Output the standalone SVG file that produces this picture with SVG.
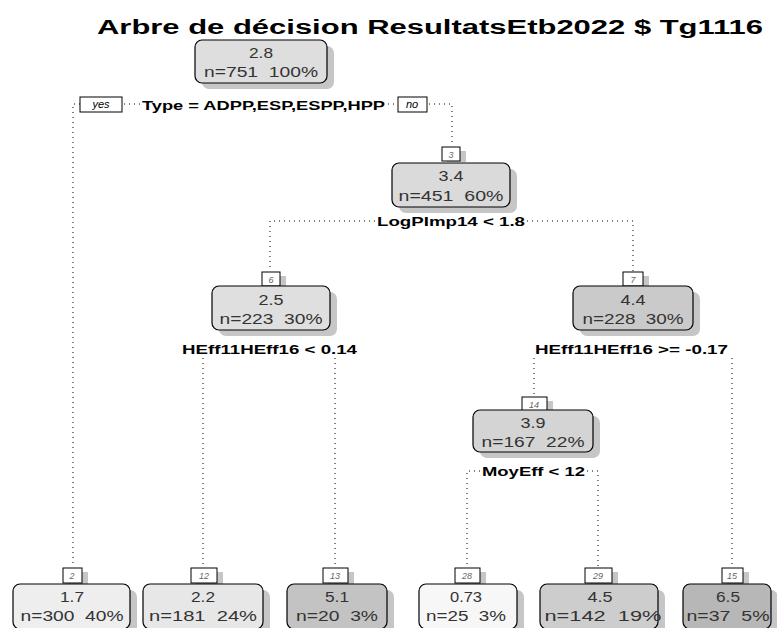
<svg xmlns="http://www.w3.org/2000/svg" width="777" height="628" viewBox="0 0 777 628">
<defs>
<style>
.bg{fill:#fff}
.title{font-family:"Liberation Sans",Arial,sans-serif;font-weight:bold;font-size:20px;fill:#000}
.box{stroke:#000;stroke-width:1.2}
.shadow{fill:#c6c6c6}
.val{font-family:"Liberation Sans",Arial,sans-serif;font-size:15px;fill:#333;text-anchor:middle;white-space:pre}
.lab{fill:#fff;stroke:#000;stroke-width:1}
.labt{font-family:"Liberation Sans",Arial,sans-serif;font-size:9px;font-style:italic;fill:#666;text-anchor:middle}
.split{font-family:"Liberation Sans",Arial,sans-serif;font-weight:bold;font-size:13.5px;fill:#000}
.yn{font-family:"Liberation Sans",Arial,sans-serif;font-style:italic;font-size:11px;fill:#000;text-anchor:middle}
.dot{fill:none;stroke:#000;stroke-width:1;stroke-dasharray:1 4}
</style>
</defs>
<rect class="bg" x="0" y="0" width="777" height="628"/>
<text class="title" x="97" y="34" textLength="666" lengthAdjust="spacingAndGlyphs">Arbre de décision ResultatsEtb2022 $ Tg1116</text>

<g id="connectors">
  <!-- root split -->
  <path class="dot" d="M80 104 H73 V567"/>
  <path class="dot" d="M124 104 H140"/>
  <path class="dot" d="M388 104 H397"/>
  <path class="dot" d="M429 104 H452 V146"/>
  <!-- node 3 split -->
  <path class="dot" d="M375 221 H270 V271"/>
  <path class="dot" d="M527 221 H633 V271"/>
  <!-- node 6 split -->
  <path class="dot" d="M203 358 V567"/>
  <path class="dot" d="M335 358 V567"/>
  <!-- node 7 split -->
  <path class="dot" d="M534 358 V396"/>
  <path class="dot" d="M732 358 V567"/>
  <!-- node 14 split -->
  <path class="dot" d="M480 471 H467 V567"/>
  <path class="dot" d="M587 471 H598 V567"/>
</g>

<g id="node1">
  <rect class="shadow" x="202" y="46" width="132" height="43" rx="7"/>
  <rect class="box" x="195" y="40" width="132" height="43" rx="7" fill="#dedede"/>
  <text class="val" x="261" y="58" textLength="24" lengthAdjust="spacingAndGlyphs">2.8</text>
  <text class="val" x="261" y="77" textLength="114" lengthAdjust="spacingAndGlyphs">n=751  100%</text>
  <rect class="lab" x="80" y="97" width="42" height="15"/>
  <text class="yn" x="101" y="108">yes</text>
  <text class="split" x="142" y="110" textLength="243" lengthAdjust="spacingAndGlyphs">Type = ADPP,ESP,ESPP,HPP</text>
  <rect class="lab" x="398" y="97" width="29" height="15"/>
  <text class="yn" x="412" y="108">no</text>
</g>

<g id="node3">
  <rect class="shadow" x="447" y="151" width="19" height="11"/>
  <rect class="lab" x="442" y="147" width="18" height="14"/>
  <text class="labt" x="451" y="158">3</text>
  <rect class="shadow" x="399" y="169" width="118" height="44" rx="7"/>
  <rect class="box" x="392" y="163" width="118" height="44" rx="7" fill="#dadada"/>
  <text class="val" x="451" y="181" textLength="25" lengthAdjust="spacingAndGlyphs">3.4</text>
  <text class="val" x="451" y="201" textLength="105" lengthAdjust="spacingAndGlyphs">n=451  60%</text>
  <text class="split" x="377" y="226" textLength="148" lengthAdjust="spacingAndGlyphs">LogPImp14 &lt; 1.8</text>
</g>

<g id="node6">
  <rect class="shadow" x="267" y="276" width="19" height="11"/>
  <rect class="lab" x="262" y="272" width="18" height="14"/>
  <text class="labt" x="271" y="283">6</text>
  <rect class="shadow" x="219" y="292" width="118" height="44" rx="7"/>
  <rect class="box" x="212" y="286" width="118" height="44" rx="7" fill="#dfdfdf"/>
  <text class="val" x="271" y="305" textLength="25" lengthAdjust="spacingAndGlyphs">2.5</text>
  <text class="val" x="271" y="324" textLength="103" lengthAdjust="spacingAndGlyphs">n=223  30%</text>
  <text class="split" x="182" y="354" textLength="175" lengthAdjust="spacingAndGlyphs">HEff11HEff16 &lt; 0.14</text>
</g>

<g id="node7">
  <rect class="shadow" x="628" y="276" width="21" height="11"/>
  <rect class="lab" x="623" y="272" width="20" height="14"/>
  <text class="labt" x="633" y="283">7</text>
  <rect class="shadow" x="580" y="292" width="120" height="44" rx="7"/>
  <rect class="box" x="573" y="286" width="120" height="44" rx="7" fill="#cacaca"/>
  <text class="val" x="633" y="305" textLength="25" lengthAdjust="spacingAndGlyphs">4.4</text>
  <text class="val" x="633" y="324" textLength="101" lengthAdjust="spacingAndGlyphs">n=228  30%</text>
  <text class="split" x="535" y="354" textLength="193" lengthAdjust="spacingAndGlyphs">HEff11HEff16 &gt;= -0.17</text>
</g>

<g id="node14">
  <rect class="shadow" x="527" y="401" width="26" height="11"/>
  <rect class="lab" x="522" y="397" width="25" height="14"/>
  <text class="labt" x="534" y="408">14</text>
  <rect class="shadow" x="480" y="416" width="120" height="42" rx="7"/>
  <rect class="box" x="473" y="410" width="120" height="42" rx="7" fill="#d4d4d4"/>
  <text class="val" x="533" y="428" textLength="25" lengthAdjust="spacingAndGlyphs">3.9</text>
  <text class="val" x="533" y="447" textLength="103" lengthAdjust="spacingAndGlyphs">n=167  22%</text>
  <text class="split" x="482" y="476" textLength="103" lengthAdjust="spacingAndGlyphs">MoyEff &lt; 12</text>
</g>

<g id="node2">
  <rect class="shadow" x="68" y="572" width="20" height="12"/>
  <rect class="lab" x="63" y="568" width="19" height="15"/>
  <text class="labt" x="72" y="579">2</text>
  <rect class="shadow" x="20" y="590" width="117" height="45" rx="7"/>
  <rect class="box" x="13" y="584" width="117" height="45" rx="7" fill="#eeeeee"/>
  <text class="val" x="72" y="602" textLength="24" lengthAdjust="spacingAndGlyphs">1.7</text>
  <text class="val" x="72" y="621" textLength="103" lengthAdjust="spacingAndGlyphs">n=300  40%</text>
</g>

<g id="node12">
  <rect class="shadow" x="196" y="572" width="27" height="12"/>
  <rect class="lab" x="191" y="568" width="26" height="15"/>
  <text class="labt" x="204" y="579">12</text>
  <rect class="shadow" x="150" y="590" width="120" height="45" rx="7"/>
  <rect class="box" x="143" y="584" width="120" height="45" rx="7" fill="#e7e7e7"/>
  <text class="val" x="203" y="602" textLength="24" lengthAdjust="spacingAndGlyphs">2.2</text>
  <text class="val" x="203" y="621" textLength="108" lengthAdjust="spacingAndGlyphs">n=181  24%</text>
</g>

<g id="node13">
  <rect class="shadow" x="328" y="572" width="26" height="12"/>
  <rect class="lab" x="323" y="568" width="25" height="15"/>
  <text class="labt" x="335" y="579">13</text>
  <rect class="shadow" x="294" y="590" width="100" height="45" rx="7"/>
  <rect class="box" x="287" y="584" width="100" height="45" rx="7" fill="#c3c3c3"/>
  <text class="val" x="337" y="602" textLength="24" lengthAdjust="spacingAndGlyphs">5.1</text>
  <text class="val" x="337" y="621" textLength="82" lengthAdjust="spacingAndGlyphs">n=20  3%</text>
</g>

<g id="node28">
  <rect class="shadow" x="460" y="572" width="26" height="12"/>
  <rect class="lab" x="455" y="568" width="25" height="15"/>
  <text class="labt" x="467" y="579">28</text>
  <rect class="shadow" x="426" y="590" width="98" height="45" rx="7"/>
  <rect class="box" x="419" y="584" width="98" height="45" rx="7" fill="#f7f7f7"/>
  <text class="val" x="466" y="602" textLength="32" lengthAdjust="spacingAndGlyphs">0.73</text>
  <text class="val" x="466" y="621" textLength="80" lengthAdjust="spacingAndGlyphs">n=25  3%</text>
</g>

<g id="node29">
  <rect class="shadow" x="590" y="572" width="28" height="12"/>
  <rect class="lab" x="585" y="568" width="27" height="15"/>
  <text class="labt" x="598" y="579">29</text>
  <rect class="shadow" x="547" y="590" width="118" height="45" rx="7"/>
  <rect class="box" x="540" y="584" width="118" height="45" rx="7" fill="#cdcdcd"/>
  <text class="val" x="600" y="602" textLength="25" lengthAdjust="spacingAndGlyphs">4.5</text>
  <text class="val" x="603" y="621" textLength="117" lengthAdjust="spacingAndGlyphs">n=142  19%</text>
</g>

<g id="node15">
  <rect class="shadow" x="727" y="572" width="22" height="12"/>
  <rect class="lab" x="722" y="568" width="21" height="15"/>
  <text class="labt" x="732" y="579">15</text>
  <rect class="shadow" x="690" y="590" width="88" height="45" rx="7"/>
  <rect class="box" x="683" y="584" width="88" height="45" rx="7" fill="#b7b7b7"/>
  <text class="val" x="728" y="602" textLength="24" lengthAdjust="spacingAndGlyphs">6.5</text>
  <text class="val" x="728" y="621" textLength="83" lengthAdjust="spacingAndGlyphs">n=37  5%</text>
</g>
</svg>
